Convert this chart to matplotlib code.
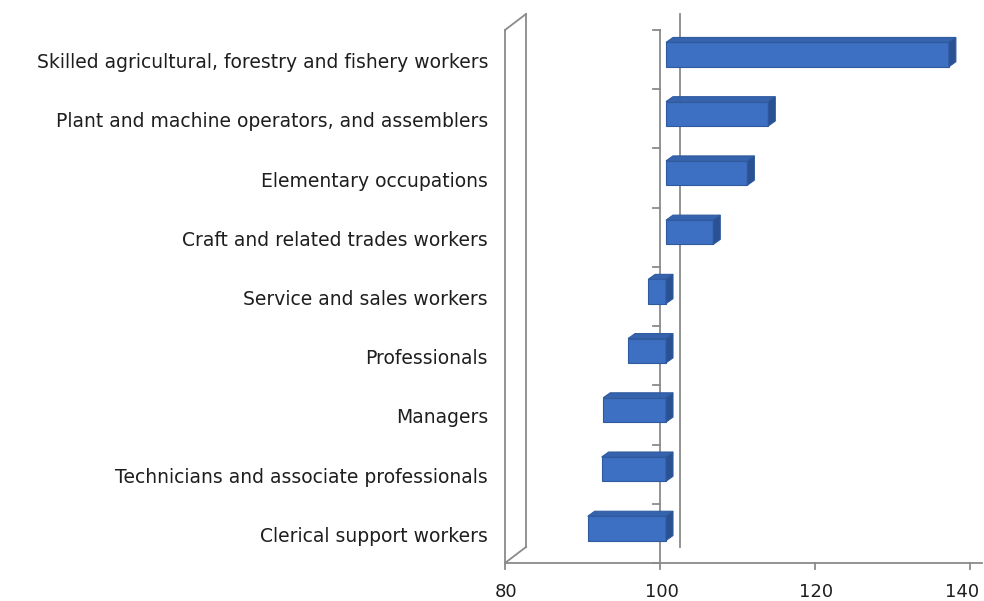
import matplotlib.pyplot as plt
from matplotlib.patches import Polygon

# data
categories = ["Skilled agricultural, forestry and fishery workers",
              "Plant and machine operators, and assemblers",
              "Elementary occupations",
              "Craft and related trades workers",
              "Service and sales workers",
              "Professionals",
              "Managers",
              "Technicians and associate professionals",
              "Clerical support workers"]
values = [136.5, 113.2, 110.5, 106.1, 97.7, 95.1, 91.9, 91.7, 89.9]
xticks = [80, 100, 120, 140]
base = 100

W, H = 984, 601
fig = plt.figure(figsize=(W / 100, H / 100), dpi=100)
ax_l, ax_r, ax_b, ax_t = 505, 982, 38, 571
ax = fig.add_axes([ax_l / W, ax_b / H, (ax_r - ax_l) / W, (ax_t - ax_b) / H])

n = len(categories)
kx = 7.75                         # pixels per value unit
xmax = 80 + (ax_r - ax_l) / kx
ky = (ax_t - ax_b) / n            # pixels per category
ax.set_xlim(80, xmax)
ax.set_ylim(n - 0.5, -0.5)
ax.axis("off")

grey = "#8a8a8a"
txt = "#1e1e1e"

# walls (3d look): left panel and back line at 100
wdx, wdy = 21 / kx, -16 / ky
top, bot = -0.5, n - 0.5
for xs, ys in [([80, 80], [top, bot]),
               ([80 + wdx, 80 + wdx], [top + wdy, bot + wdy]),
               ([80, 80 + wdx], [top, top + wdy]),
               ([80, 80 + wdx], [bot, bot + wdy]),
               ([base + 20 / kx] * 2, [top + wdy, bot + wdy])]:
    ax.plot(xs, ys, color=grey, lw=1.3, clip_on=False, zorder=1)

# front category axis at 100 with ticks
ax.plot([base, base], [top, bot], color=grey, lw=1.3, clip_on=False, zorder=1)
for b in range(n + 1):
    yb = b - 0.5
    ax.plot([base - 7 / kx, base], [yb, yb], color=grey, lw=1.3, clip_on=False, zorder=1)

# bottom value axis
ax.plot([80, xmax], [bot, bot], color=grey, lw=1.3, clip_on=False, zorder=1)
for t in xticks:
    ax.plot([t, t], [bot, bot + 6 / ky], color=grey, lw=1.3, clip_on=False, zorder=1)
    shift = -8 / kx if t == xticks[-1] else 1.5 / kx
    ax.text(t + shift, bot + 29 / ky, str(t), ha="center", va="center", fontsize=13, color=txt)

# category labels
for i, c in enumerate(categories):
    ax.text(80 - 17 / kx, i + 3 / ky, c, ha="right", va="center", fontsize=13.5, color=txt)

# 3d bars
h = 0.41
fx, fy = 6 / kx, -5 / ky      # front face offset
dx, dy = 7 / kx, -5 / ky      # bar depth
front_c, top_c, side_c, edge_c = "#3d70c2", "#3563ad", "#2a5191", "#2f5a9e"
for i, v in enumerate(values):
    x0, x1 = min(base, v) + fx, max(base, v) + fx
    yt, yb = i - h / 2 + fy, i + h / 2 + fy
    ax.barh(i + fy, x1 - x0, left=x0, height=h, color=front_c, edgecolor=edge_c, lw=0.8, zorder=3)
    ax.add_patch(Polygon([(x0, yt), (x1, yt), (x1 + dx, yt + dy), (x0 + dx, yt + dy)],
                         closed=True, fc=top_c, ec=edge_c, lw=0.8, zorder=3))
    ax.add_patch(Polygon([(x1, yt), (x1, yb), (x1 + dx, yb + dy), (x1 + dx, yt + dy)],
                         closed=True, fc=side_c, ec=edge_c, lw=0.8, zorder=3))

fig.savefig("out.png", dpi=100)
